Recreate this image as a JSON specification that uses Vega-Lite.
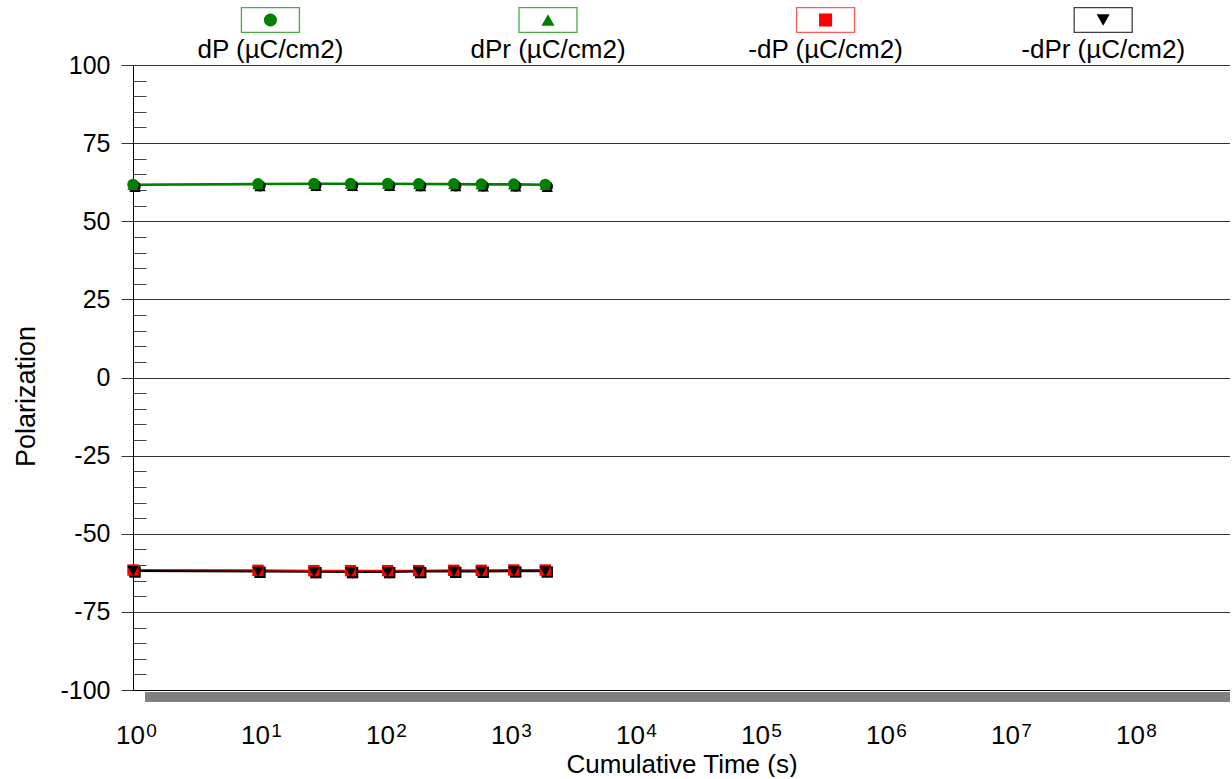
{
  "$schema": "https://vega.github.io/schema/vega-lite/v6.json",
  "background": "white",
  "padding": {"left": 12, "top": 0, "right": 0, "bottom": 0},
  "bounds": "flush",
  "spacing": 25,
  "config": {
    "view": {"stroke": null},
    "font": "Liberation Sans",
    "axis": {"labelColor": "black", "titleColor": "black", "domainColor": "black", "tickColor": "#333", "labelFont": "Liberation Sans", "titleFont": "Liberation Sans", "titleFontWeight": "normal"}
  },
  "datasets": {
    "series": [
      {"series": "dP (µC/cm2)"},
      {"series": "dPr (µC/cm2)"},
      {"series": "-dP (µC/cm2)"},
      {"series": "-dPr (µC/cm2)"}
    ],
    "points": [
      {"t": 1, "series": "dP (µC/cm2)", "v": 61.8},
      {"t": 10, "series": "dP (µC/cm2)", "v": 62.0},
      {"t": 28, "series": "dP (µC/cm2)", "v": 62.1},
      {"t": 55, "series": "dP (µC/cm2)", "v": 62.1},
      {"t": 109, "series": "dP (µC/cm2)", "v": 62.1},
      {"t": 193, "series": "dP (µC/cm2)", "v": 62.0},
      {"t": 368, "series": "dP (µC/cm2)", "v": 62.0},
      {"t": 611, "series": "dP (µC/cm2)", "v": 61.9},
      {"t": 1112, "series": "dP (µC/cm2)", "v": 61.9},
      {"t": 1986, "series": "dP (µC/cm2)", "v": 61.8},
      {"t": 1, "series": "dPr (µC/cm2)", "v": 61.6},
      {"t": 10, "series": "dPr (µC/cm2)", "v": 61.8},
      {"t": 28, "series": "dPr (µC/cm2)", "v": 61.9},
      {"t": 55, "series": "dPr (µC/cm2)", "v": 61.9},
      {"t": 109, "series": "dPr (µC/cm2)", "v": 61.9},
      {"t": 193, "series": "dPr (µC/cm2)", "v": 61.8},
      {"t": 368, "series": "dPr (µC/cm2)", "v": 61.8},
      {"t": 611, "series": "dPr (µC/cm2)", "v": 61.7},
      {"t": 1112, "series": "dPr (µC/cm2)", "v": 61.7},
      {"t": 1986, "series": "dPr (µC/cm2)", "v": 61.6},
      {"t": 1, "series": "-dP (µC/cm2)", "v": -61.6},
      {"t": 10, "series": "-dP (µC/cm2)", "v": -61.7},
      {"t": 28, "series": "-dP (µC/cm2)", "v": -61.8},
      {"t": 55, "series": "-dP (µC/cm2)", "v": -61.8},
      {"t": 109, "series": "-dP (µC/cm2)", "v": -61.8},
      {"t": 193, "series": "-dP (µC/cm2)", "v": -61.8},
      {"t": 368, "series": "-dP (µC/cm2)", "v": -61.7},
      {"t": 611, "series": "-dP (µC/cm2)", "v": -61.7},
      {"t": 1112, "series": "-dP (µC/cm2)", "v": -61.6},
      {"t": 1986, "series": "-dP (µC/cm2)", "v": -61.6},
      {"t": 1, "series": "-dPr (µC/cm2)", "v": -61.9},
      {"t": 10, "series": "-dPr (µC/cm2)", "v": -62.1},
      {"t": 28, "series": "-dPr (µC/cm2)", "v": -62.2},
      {"t": 55, "series": "-dPr (µC/cm2)", "v": -62.2},
      {"t": 109, "series": "-dPr (µC/cm2)", "v": -62.2},
      {"t": 193, "series": "-dPr (µC/cm2)", "v": -62.1},
      {"t": 368, "series": "-dPr (µC/cm2)", "v": -62.1},
      {"t": 611, "series": "-dPr (µC/cm2)", "v": -62.1},
      {"t": 1112, "series": "-dPr (µC/cm2)", "v": -62.0},
      {"t": 1986, "series": "-dPr (µC/cm2)", "v": -62.0}
    ]
  },
  "vconcat": [
    {
      "width": 1097,
      "height": 40,
      "data": {"name": "series"},
      "encoding": {
        "x": {"field": "series", "type": "nominal", "sort": ["dP (µC/cm2)", "dPr (µC/cm2)", "-dP (µC/cm2)", "-dPr (µC/cm2)"], "axis": null, "scale": {"type": "point", "padding": 0.476, "align": 0.52}}
      },
      "layer": [
        {
          "mark": {"type": "point", "shape": "M-1,-0.43H1V0.43H-1Z", "size": 3364, "filled": false, "fill": "white", "fillOpacity": 1, "strokeWidth": 1.3, "opacity": 1},
          "encoding": {
            "stroke": {"field": "series", "type": "nominal", "legend": null, "scale": {"domain": ["dP (µC/cm2)", "dPr (µC/cm2)", "-dP (µC/cm2)", "-dPr (µC/cm2)"], "range": ["#4aa84a", "#4aa84a", "#ff5a5a", "#404040"]}}
          }
        },
        {
          "mark": {"type": "point", "filled": true, "size": 170, "opacity": 1},
          "encoding": {
            "shape": {"field": "series", "type": "nominal", "legend": null, "scale": {"domain": ["dP (µC/cm2)", "dPr (µC/cm2)", "-dP (µC/cm2)", "-dPr (µC/cm2)"], "range": ["circle", "triangle-up", "square", "triangle-down"]}},
            "color": {"field": "series", "type": "nominal", "legend": null, "scale": {"domain": ["dP (µC/cm2)", "dPr (µC/cm2)", "-dP (µC/cm2)", "-dPr (µC/cm2)"], "range": ["#008000", "#008000", "#ff0000", "#000000"]}}
          }
        },
        {
          "mark": {"type": "text", "dy": 30, "fontSize": 26, "baseline": "middle", "color": "black"},
          "encoding": {"text": {"field": "series"}}
        }
      ]
    },
    {
      "width": 1097,
      "height": 625,
      "data": {"name": "points"},
      "layer": [
        {
          "mark": {"type": "rect", "color": "#808080"},
          "encoding": {
            "x": {"datum": 1.25, "type": "quantitative", "scale": {"type": "log", "domain": [1, 597000000], "nice": false},
              "axis": {"orient": "bottom", "title": "Cumulative Time (s)", "values": [1, 10, 100, 1000, 10000, 100000, 1000000, 10000000, 100000000], "labelExpr": "'10'", "labelOffset": -3, "ticks": false, "grid": false, "domain": true, "labelPadding": 32, "labelFontSize": 26, "titleFontSize": 26, "titlePadding": 3, "labelFlush": false, "labelOverlap": false}},
            "x2": {"datum": 597000000},
            "y": {"datum": -100.6, "type": "quantitative", "scale": {"domain": [-100, 100], "nice": false}, "axis": null},
            "y2": {"datum": -103.8}
          }
        },
        {
          "mark": {"type": "line", "strokeWidth": 2},
          "encoding": {
            "x": {"field": "t", "type": "quantitative", "scale": {"type": "log", "domain": [1, 597000000], "nice": false},
              "axis": {"orient": "bottom", "title": null, "values": [1, 10, 100, 1000, 10000, 100000, 1000000, 10000000, 100000000], "labelExpr": "'' + round(log(datum.value)/LN10)", "labelOffset": 18, "ticks": false, "grid": false, "domain": false, "labelPadding": 31, "labelFontSize": 19, "labelFlush": false, "labelOverlap": false}},
            "y": {"field": "v", "type": "quantitative", "scale": {"domain": [-100, 100], "nice": false},
              "axis": {"orient": "left", "title": "Polarization", "titleY": 331, "values": [-100, -75, -50, -25, 0, 25, 50, 75, 100], "labelExpr": "replace(datum.label, '\u2212', '-')", "tickSize": 12, "labelPadding": 11, "labelFontSize": 25, "titleFontSize": 27, "titlePadding": 19, "grid": true, "gridColor": "#333", "gridOpacity": 1, "labelFlush": false}},
            "color": {"field": "series", "type": "nominal", "legend": null, "scale": {"domain": ["dP (µC/cm2)", "dPr (µC/cm2)", "-dP (µC/cm2)", "-dPr (µC/cm2)"], "range": ["#008000", "#008000", "#ff0000", "#000000"]}},
            "detail": {"field": "series"}
          }
        },
        {
          "mark": {"type": "point", "filled": true, "size": 130, "opacity": 1, "color": "black", "xOffset": 2, "yOffset": 2},
          "encoding": {
            "x": {"field": "t", "type": "quantitative", "axis": null},
            "y": {"field": "v", "type": "quantitative",
              "axis": {"orient": "left", "title": null, "values": [-95, -90, -85, -80, -70, -65, -60, -55, -45, -40, -35, -30, -20, -15, -10, -5, 5, 10, 15, 20, 30, 35, 40, 45, 55, 60, 65, 70, 80, 85, 90, 95], "tickSize": -13, "labels": false, "domain": false, "grid": false, "tickColor": "#444"}},
            "shape": {"field": "series", "type": "nominal", "legend": null, "scale": {"domain": ["dP (µC/cm2)", "dPr (µC/cm2)", "-dP (µC/cm2)", "-dPr (µC/cm2)"], "range": ["circle", "triangle-up", "square", "triangle-down"]}}
          }
        },
        {
          "mark": {"type": "point", "filled": true, "size": 130, "opacity": 1},
          "encoding": {
            "x": {"field": "t", "type": "quantitative", "axis": null},
            "y": {"field": "v", "type": "quantitative", "axis": null},
            "shape": {"field": "series", "type": "nominal", "legend": null},
            "color": {"field": "series", "type": "nominal", "legend": null}
          }
        }
      ],
      "resolve": {"axis": {"x": "independent", "y": "independent"}}
    }
  ],
  "resolve": {"scale": {"x": "independent", "color": "independent", "shape": "independent"}}
}
